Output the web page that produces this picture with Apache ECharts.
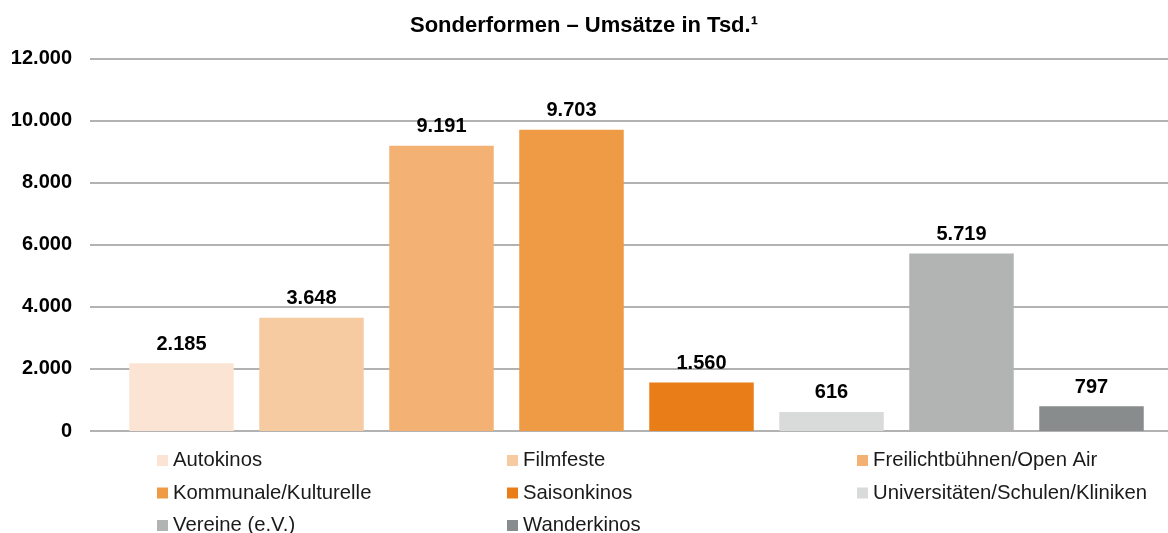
<!DOCTYPE html>
<html>
<head>
<meta charset="utf-8">
<script src="https://cdn.jsdelivr.net/npm/echarts@6/dist/echarts.min.js"></script>
<style>
html,body{margin:0;padding:0;background:#fff;}
#main{width:1168px;height:533px;}
</style>
</head>
<body>
<div id="main"></div>
<script>
const titleText = 'Sonderformen – Umsätze in Tsd.¹';
const categories = ['Autokinos', 'Filmfeste', 'Freilichtbühnen/Open Air', 'Kommunale/Kulturelle', 'Saisonkinos', 'Universitäten/Schulen/Kliniken', 'Vereine (e.V.)', 'Wanderkinos'];
const values = [2185, 3648, 9191, 9703, 1560, 616, 5719, 797];
const colors = ['#FBE4D3', '#F6CBA1', '#F3B274', '#EF9A45', '#E97E18', '#D9DADA', '#B2B3B3', '#898C8C'];
const legendCol1 = ['Autokinos', 'Kommunale/Kulturelle', 'Vereine (e.V.)'];
const legendCol2 = ['Filmfeste', 'Saisonkinos', 'Wanderkinos'];
const legendCol3 = ['Freilichtbühnen/Open Air', 'Universitäten/Schulen/Kliniken'];
const yMin = 0, yMax = 12000, yStep = 2000;

function fmt(v) {
  return String(v).replace(/\B(?=(\d{3})+(?!\d))/g, '.');
}

const chart = echarts.init(document.getElementById('main'), null, {renderer: 'canvas'});
const font = 'Liberation Sans, Arial, sans-serif';

const series = categories.map((name, i) => ({
  type: 'bar',
  name: name,
  xAxisIndex: 0,
  yAxisIndex: 0,
  stack: 'all',
  barWidth: 104.5,
  itemStyle: {color: colors[i]},
  label: {
    show: true,
    position: 'top',
    distance: 9,
    fontFamily: font,
    fontSize: 20,
    fontWeight: 'bold',
    color: '#000',
    formatter: p => fmt(p.value)
  },
  emphasis: {disabled: true},
  data: categories.map((_, j) => j === i ? values[i] : '-')
}));

function legend(data, left) {
  return {
    data: data,
    orient: 'vertical',
    left: left,
    top: 450.5,
    height: 95,
    icon: 'rect',
    itemWidth: 11,
    itemHeight: 11,
    itemGap: 12.5,
    itemTextGap: 5,
    itemStyle: {borderWidth: 0},
    selectedMode: false,
    textStyle: {fontFamily: font, fontSize: 20.3, color: '#1a1a1a', lineHeight: 20},
    padding: 0
  };
}

chart.setOption({
  animation: false,
  title: {
    text: titleText,
    left: 'center',
    top: 10,
    textStyle: {fontFamily: font, fontSize: 22, fontWeight: 'bold', color: '#000'}
  },
  legend: [legend(legendCol1, 157), legend(legendCol2, 507), legend(legendCol3, 857)],
  grid: [
    {left: 116.5, right: 11.5, top: 58.5, bottom: 102},
    {left: 90, right: 0, top: 58.5, bottom: 102}
  ],
  xAxis: [
    {type: 'category', gridIndex: 0, data: categories, show: false},
    {type: 'category', gridIndex: 1, data: [''], show: false}
  ],
  yAxis: [
    {type: 'value', gridIndex: 0, min: yMin, max: yMax, interval: yStep, show: false},
    {
      type: 'value', gridIndex: 1, min: yMin, max: yMax, interval: yStep,
      axisLine: {show: false},
      axisTick: {show: false},
      splitLine: {show: true, lineStyle: {color: '#999', width: 1.5}},
      axisLabel: {
        fontFamily: font, fontSize: 20, fontWeight: 'bold', color: '#000', margin: 18,
        formatter: v => fmt(v)
      }
    }
  ],
  series: series
});
</script>
</body>
</html>
